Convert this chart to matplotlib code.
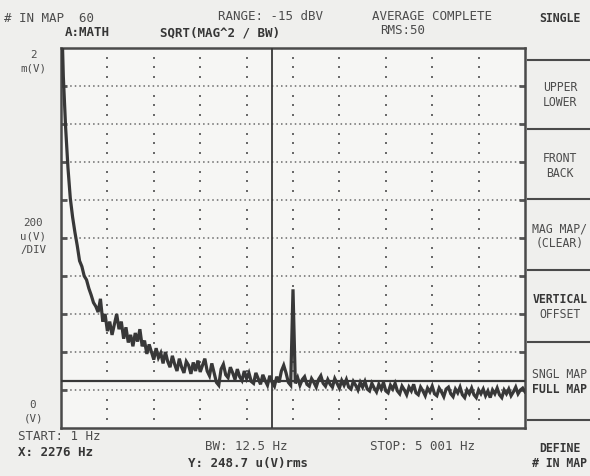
import numpy as np
import matplotlib.pyplot as plt
from matplotlib.lines import Line2D

# analyzer settings shown on screen
START_HZ = 1
STOP_HZ = 5001
X_MARKER_HZ = 2276
Y_MARKER_UV = 248.7
TOP_UV = 2000
DIV_UV = 200

# averaged spectrum, u(V), every 25 Hz
amp_uv = [
    2300, 1850, 1580, 1370, 1210, 1110, 1030, 960, 880, 850,
    800, 780, 735, 700, 660, 640, 610,
    680, 560, 600, 510, 560, 490, 545, 600, 520, 560,
    470, 530, 450, 490, 430, 500, 455, 520, 430, 460,
    390, 440, 400, 360, 420, 370, 395, 340, 400, 350,
    320, 380, 335, 300, 365, 320, 290, 350, 330, 285,
    345, 300, 355, 295, 330, 365, 300, 275, 340, 290,
    240, 225, 310, 335, 280, 265, 320, 290, 255, 310,
    270, 250, 300, 260, 290, 245, 235, 290, 260, 230,
    280, 250, 225, 275, 240, 220, 270, 240, 300, 330,
    290, 240, 225, 730, 235, 265, 225, 255, 270, 230,
    220, 260, 240, 215, 255, 275, 235, 220, 255, 230,
    215, 260, 235, 210, 250, 225, 255, 215, 205, 245,
    225, 200, 240, 215, 245, 205, 195, 235, 210, 190,
    230, 205, 240, 195, 185, 225, 205, 235, 195, 180,
    220, 200, 175, 215, 195, 230, 185, 175, 215, 195,
    170, 210, 190, 220, 180, 170, 210, 190, 165, 205,
    215, 180, 165, 205, 185, 215, 175, 160, 200, 180,
    210, 175, 160, 200, 180, 205, 170, 195, 160, 200,
    180, 210, 175, 160, 200, 180, 205, 170, 190, 215,
    180, 200, 210, 190,
]
freq_hz = np.linspace(START_HZ, STOP_HZ, len(amp_uv))

header = [
    ('# IN MAP  60', 4, 18, False),
    ('RANGE: -15 dBV', 218, 17, False),
    ('AVERAGE COMPLETE', 372, 17, False),
    ('A:MATH', 65, 33, True),
    ('SQRT(MAG^2 / BW)', 160, 33, True),
    ('RMS:50', 380, 31, False),
]
footer = [
    ('START: 1 Hz', 18, 437, False),
    ('X: 2276 Hz', 18, 453, True),
    ('BW: 12.5 Hz', 205, 447, False),
    ('Y: 248.7 u(V)rms', 188, 463, True),
    ('STOP: 5 001 Hz', 370, 447, False),
]
softkeys = [
    (['SINGLE'], 18, True),
    (['UPPER', 'LOWER'], 95, False),
    (['FRONT', 'BACK'], 166, False),
    (['MAG MAP/', '(CLEAR)'], 236, False),
    (['VERTICAL', 'OFFSET'], 307, 'first'),
    (['SNGL MAP', 'FULL MAP'], 382, 'second'),
    (['DEFINE', '# IN MAP'], 456, True),
]
key_seps = [60, 129, 199, 270, 342, 420]
left_labels = [(['2', 'm(V)'], 55), (['200', 'u(V)', '/DIV'], 223), (['0', '(V)'], 405)]

W, H = 590, 476
BG = '#efefed'
INK = '#383838'
TXT = '#4c4c4c'

fig = plt.figure(figsize=(W / 100, H / 100), dpi=100, facecolor=BG)
ax = fig.add_axes([61 / W, 1 - 428 / H, (525 - 61) / W, (428 - 48) / H])
ax.set_facecolor('#f6f6f4')


def put(x, y, s, size=9, bold=False, ha='left'):
    fig.text(x / W, 1 - y / H, s, fontsize=size, ha=ha, va='center',
             family='DejaVu Sans Mono', fontweight='bold' if bold else 'normal',
             color='#363636' if bold else TXT)


# grid: dense dotted horizontals, sparse dots on the verticals
xdiv = (STOP_HZ - START_HZ) / 10
xmaj = START_HZ + xdiv * np.arange(1, 10)
ymaj = DIV_UV * np.arange(1, 10)
for yv in ymaj:
    ax.axhline(yv, color='#6a6a6a', lw=1.1, ls=(0, (1, 2)), zorder=1)
ymin = np.array([v for v in np.arange(0, TOP_UV, DIV_UV / 4) if v % DIV_UV])
gx, gy = np.meshgrid(xmaj, ymin)
ax.plot(gx.ravel(), gy.ravel(), ls='none', marker='s', ms=1.6, color='#6a6a6a', mew=0, zorder=1)

ax.plot(freq_hz, amp_uv, color=INK, lw=2.3, solid_joinstyle='miter', zorder=3)
ax.axvline(X_MARKER_HZ, color=INK, lw=1.3, zorder=4)
ax.axhline(Y_MARKER_UV, color=INK, lw=1.6, zorder=4)

ax.set_xlim(START_HZ, STOP_HZ)
ax.set_ylim(0, TOP_UV)
ax.set_yticks(ymaj)
ax.set_xticks([])
ax.tick_params(axis='y', direction='in', length=4, width=2, color='#555555',
               left=True, right=True, labelleft=False)
for sp in ax.spines.values():
    sp.set_linewidth(1.8)
    sp.set_color('#4a4a4a')

for s, x, y, b in header + footer:
    put(x, y, s, size=9, bold=b)

for lines, yc, bold in softkeys:
    n = len(lines)
    for i, s in enumerate(lines):
        yy = yc + (i - (n - 1) / 2) * 15
        b = bold is True or (bold == 'first' and i == 0) or (bold == 'second' and i == 1)
        put(560, yy, s, size=8.3, bold=b, ha='center')
for ys in key_seps:
    fig.add_artist(Line2D([528 / W, 1], [1 - ys / H] * 2, color='#4a4a4a', lw=1.5))

for lines, ytop in left_labels:
    for i, s in enumerate(lines):
        put(33, ytop + i * 13.5, s, size=7.8, ha='center')

fig.savefig('out.png', dpi=100, facecolor=BG)
